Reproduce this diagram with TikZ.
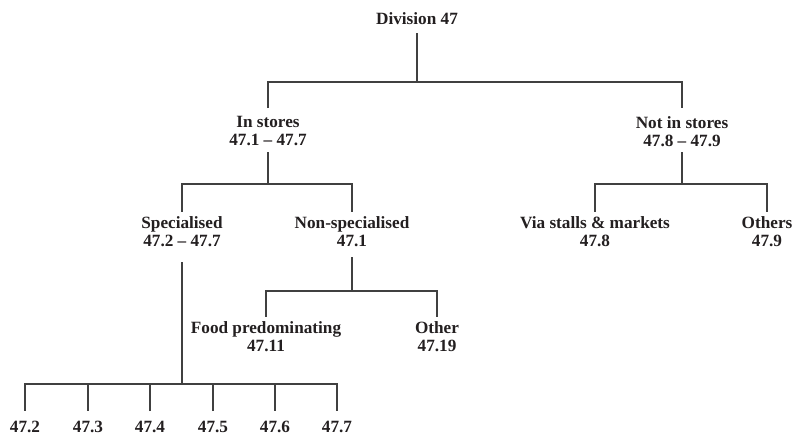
\documentclass[tikz,border=0pt]{standalone}
\usepackage{fontspec}
\setmainfont{Liberation Serif}
\definecolor{txt}{HTML}{231F20}
\definecolor{ln}{HTML}{404040}
\begin{document}
\begin{tikzpicture}[x=1pt,y=-1pt,
  lbl/.style={align=center, inner sep=0pt, font=\fontsize{17.2}{18}\selectfont\bfseries, text=txt},
  conn/.style={draw=ln, line width=1.5pt}]
\useasboundingbox[fill=white] (0,0) rectangle (794,439);
% nodes
\node[lbl] (div)  at (417,18.2)  {Division 47};
\node[lbl] (ins)  at (268,131.2) {In stores\\47.1 -- 47.7};
\node[lbl] (nis)  at (682,131.2) {Not in stores\\47.8 -- 47.9};
\node[lbl] (spec) at (182,232)   {Specialised\\47.2 -- 47.7};
\node[lbl] (nsp)  at (352,232)   {Non-specialised\\47.1};
\node[lbl] (via)  at (595,232)   {Via stalls \& markets\\47.8};
\node[lbl] (oth)  at (767,232)   {Others\\47.9};
\node[lbl] (food) at (266,337)   {Food predominating\\47.11};
\node[lbl] (other) at (437,337)  {Other\\47.19};
\node[lbl] (l2) at (25,427)  {47.2};
\node[lbl] (l3) at (88,427)  {47.3};
\node[lbl] (l4) at (150,427) {47.4};
\node[lbl] (l5) at (213,427) {47.5};
\node[lbl] (l6) at (275,427) {47.6};
\node[lbl] (l7) at (337,427) {47.7};
% branch levels
\coordinate (h0) at (0,82);
\coordinate (h1) at (0,184);
\coordinate (h2) at (0,291);
\coordinate (h3) at (0,384);
% Division 47
\draw[conn] ([yshift=-9pt]div.south) -- (div.south |- h0);
\draw[conn] ([yshift=8pt]ins.north) -- (ins.north |- h0) -- (nis.north |- h0) -- ([yshift=8pt]nis.north);
% In stores
\draw[conn] ([yshift=-6pt]ins.south) -- (ins.south |- h1);
\draw[conn] ([yshift=5pt]spec.north) -- (spec.north |- h1) -- (nsp.north |- h1) -- ([yshift=5pt]nsp.north);
% Not in stores
\draw[conn] ([yshift=-6pt]nis.south) -- (nis.south |- h1);
\draw[conn] ([yshift=5pt]via.north) -- (via.north |- h1) -- (oth.north |- h1) -- ([yshift=5pt]oth.north);
% Non-specialised
\draw[conn] ([yshift=-10pt]nsp.south) -- (nsp.south |- h2);
\draw[conn] ([yshift=5pt]food.north) -- (food.north |- h2) -- (other.north |- h2) -- ([yshift=5pt]other.north);
% Specialised
\draw[conn] ([yshift=-15pt]spec.south) -- (spec.south |- h3);
\draw[conn] ([yshift=10pt]l2.north) -- (l2.north |- h3) -- (l7.north |- h3) -- ([yshift=10pt]l7.north);
\foreach \n in {l3,l4,l5,l6}
  \draw[conn] ([yshift=10pt]\n.north) -- (\n.north |- h3);
\end{tikzpicture}
\end{document}
